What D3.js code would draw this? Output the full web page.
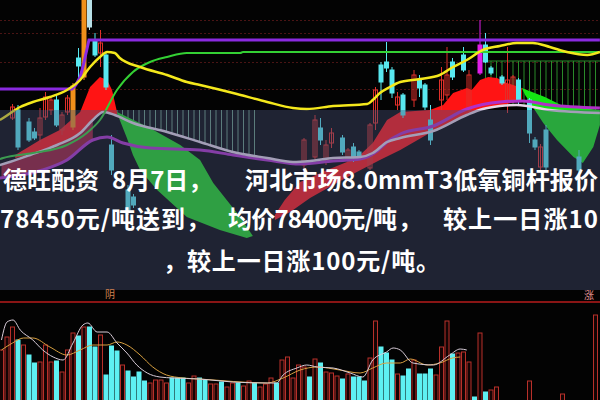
<!DOCTYPE html>
<html><head><meta charset="utf-8">
<script src="https://cdn.jsdelivr.net/npm/d3@7"></script>
<style>html,body{margin:0;padding:0;background:#000;overflow:hidden}</style>
</head><body><svg id="c" width="600" height="400"></svg>
<script>
// ---------------- DATA ----------------
const priceGrid = [78800, 78670, 78380, 78110];
// candles: [index, open, close, high, low, kind]  r=up(hollow red) c=down(cyan) o=orange m=magenta w=light
const candles = [
 [2,77820,77930,77960,77800,'r'],[3,77900,77530,77950,77500,'c'],[5,77780,77600,77820,77580,'c'],
 [6,77680,77620,77720,77600,'c'],[7,77650,77820,77920,77580,'r'],[8,77830,78030,78080,77800,'r'],
 [9,77900,78000,78040,77850,'r'],[10,78000,77750,78050,77730,'c'],[11,77700,77850,77880,77650,'r'],
 [12,77880,78020,78050,77850,'r'],[13,77730,78140,78170,77700,'o'],[14,78420,78340,78520,78180,'c'],
 [15,78230,79100,79100,78200,'o'],[16,79100,78730,79100,78700,'w'],[17,78600,78450,78670,78430,'c'],
 [18,78470,78570,78700,78330,'r'],[19,78450,78130,78480,78100,'c'],[20,77550,77300,77650,77250,'c'],
 [23,77100,76900,77150,76850,'c'],[24,77030,76950,77060,76920,'c'],
 [55,77350,77600,77620,77280,'r'],[57,77430,77800,77850,77400,'r'],[58,77720,77600,77820,77550,'c'],
 [59,77400,77550,77600,77350,'r'],[60,77570,77670,77720,77520,'r'],[62,77620,77480,77650,77450,'c'],
 [63,77400,77500,77520,77380,'r'],[64,77530,77420,77570,77380,'c'],[65,77480,77430,77500,77400,'c'],
 [67,77320,77750,77770,77300,'r'],[68,77770,78100,78130,77700,'r'],[69,78350,78180,78380,78000,'c'],
 [70,78380,78320,78580,78280,'c'],[71,78300,78070,78330,78020,'c'],[72,77950,78030,78080,77900,'r'],
 [73,78050,77850,78070,77820,'c'],[75,78000,78250,78300,77930,'r'],[76,78200,78120,78250,78030,'c'],
 [77,78150,77930,78170,77900,'c'],[78,77800,77600,77950,77550,'c'],[80,78000,78200,78330,77900,'r'],
 [81,78050,78250,78530,78000,'r'],[82,78380,78230,78420,78200,'c'],[84,78450,78300,78530,78280,'c'],
 [85,77900,78250,78300,77880,'r'],[87,78270,78550,78800,78250,'m'],[88,78550,78380,78670,78370,'c'],
 [89,78320,78270,78340,78250,'c'],[91,78230,78170,78250,78150,'c'],[92,78000,78200,78530,77870,'r'],
 [93,78000,78230,78250,77970,'r'],[94,78200,78000,78220,77950,'c'],[96,78000,77670,78020,77570,'c'],
 [97,77600,77530,77630,77500,'c'],[98,77330,77530,77560,77300,'r'],[99,77700,77330,77750,77300,'c'],
 [105,77430,77300,77500,77270,'c']
];
const maYellow = [[-0.3,77800],[0.3,77820],[3.4,77930],[5.7,77980],[8.8,78030],[11.9,78100],[14.3,78200],
 [16.1,78330],[17.9,78430],[19.2,78480],[20.6,78470],[21.5,78420],[25.2,78330],[30.1,78250],[33.7,78180],
 [36.1,78150],[42.1,78070],[48.3,77980],[53,77920],[55.5,77910],[60.3,77940],[66.5,77960],[67.5,78000],
 [68.8,78070],[70.6,78130],[72.5,78180],[76.1,78210],[79.7,78250],[82.1,78330],[84.6,78400],[87.5,78500],
 [90.6,78540],[93.7,78570],[96.6,78570],[99.7,78530],[102.8,78480],[106.5,78450],[108.8,78480]];
const maGreen = [[-0.3,77410],[0.3,77420],[5.7,77470],[11.9,77550],[15.5,77670],[17.9,77800],[21,78100],
 [23.9,78280],[27,78380],[30.1,78430],[33.7,78470],[36.1,78470],[43.4,78470],[43.9,78480],[108.8,78480]];
const stepPurple = [[-0.3,78110],[12.8,78110],[13.5,78150],[14.3,78230],[14.8,78330],[15.5,78500],[15.9,78600],[108.8,78600]];
const lineWhite = [[-0.3,77350],[1.5,77380],[5.2,77450],[10.1,77550],[14.3,77670],[16.6,77800],[18.5,77880],
 [20.6,77850],[23.9,77770],[30.1,77680],[36.1,77580],[42.1,77480],[48.3,77420],[53,77380],[56.1,77390],
 [60.3,77420],[65.2,77430],[67.5,77470],[70.1,77580],[72.5,77620],[78.5,77690],[84.6,77850],[87.5,77910],
 [90.6,77940],[93.7,77950],[99.7,77900],[108.8,77870]];
const linePurple = [[-0.3,77220],[7.5,77300],[11.9,77400],[16.6,77600],[19.2,77630],[22.1,77570],[27,77520],
 [36.1,77500],[42.1,77450],[48.3,77400],[54.3,77360],[60.3,77390],[65.2,77410],[68.3,77490],[70.1,77580],
 [72.5,77660],[78.5,77740],[84.6,77910],[90.6,77980],[94.8,77990],[99.7,77950],[108.8,77920]];
const redLeftTop = [[2.5,77450],[3.4,77480],[7,77600],[10.6,77700],[14.3,77880],[16.1,78130],[17.9,78230],
 [19.2,78200],[20.1,78100],[21,77880]];
const redLeftBottom = [[21,77860],[20.6,77850],[18.5,77880],[16.6,77800],[14.3,77670],[10.1,77550],[5.2,77450],[2.5,77420]];
const maroonLeftTop = [[0,77360],[5.2,77450],[10.1,77550],[14.3,77670],[16.6,77800]];
const maroonLeftBottom = [[16.6,77600],[11.9,77400],[7.5,77300],[0,77230]];
const redRightTop = [[49.7,76850],[51.5,77000],[54.3,77180],[59.2,77300],[64.6,77420],[67.5,77570],[70.1,77800],
 [72.5,77880],[77.9,77900],[80.3,77950],[82.1,78070],[84.6,78120],[85.5,78100],[87,78200],[88.5,78230],
 [90.1,78220],[91.9,78170],[94.6,78120]];
const redRightBottom = [[94.6,78000],[90.6,77940],[87.5,77910],[84.6,77850],[78.5,77690],[72.5,77500],
 [68.8,77400],[64.6,77280],[60.3,77150],[56.1,77020],[52.5,76880],[49.7,76800]];
const greenLeftTop = [[21,77880],[27,77720],[32.5,77550],[36.1,77400],[38.5,77170],[43.4,76830],[45.7,76640]];
const greenLeftBottom = [[44.6,76620],[39.7,76700],[33.7,76830],[28.3,77100],[25.2,77300],[23.9,77450],[22.8,77620],[21.5,77800]];
const greenRightTop = [[94.6,78120],[98.8,78030],[102.1,77940],[108.8,77900]];
const greenRightBottom = [[108.8,77750],[107.6,77530],[105.7,77370],[104,77430],[101,77600],[98.5,77770],[96.6,77930],[95.2,78050]];
const hatchGrayIdx = d3.range(21, 47);
const hatchGreenIdx = d3.range(88, 109);
const hatchGrayTop = 77900;
const hatchGreenTop = 78390;

const volValues = [50,63,73,60,55,45,37,38,55,38, 39,28,50,67,64,73,73,53,65,25,
 54,49,35,29,23,28,19,17,20,20, 17,22,22,22,17,24,22,20,16,16,
 18,13,17,17,14,19,17,13,16,22, 17,40,43,22,35,33,23,41,37,28,
 27,24,21,26,23,23,19,42,79,53, 47,40,26,24,31,40,26,26,31,25,
 53,79,46,47,48,38,3,67,8,10, 13,0,0,0,0,0,19,0,0,0, 0,0,6,0,0,0,0,0,85];
const volKind = ("uuududduuu"+"duuududdud"+"ddudddduuu"+"uddduudduu"+"duuduuduuu"+
 "duuuuududu"+"uududdduud"+"dduddudddu"+"uuduuududu"+"uuuuuuuuuu"+"uuuuuuuuu").split('');
const volMaWhite = [[0,60],[1,78],[2.1,80],[3.4,70],[5.7,60],[7.5,50],[9.4,43],[11.2,40],[13,57],[14.8,75],
 [15.7,77],[17.4,68],[19.2,68],[21,57],[22.8,47],[24.6,35],[26.5,27],[28.8,23],[31.2,22],[36,21],[42,18],
 [48.3,17],[50,17],[51.2,25],[53.7,32],[55.5,35],[57.4,33],[60.3,32],[63.4,27],[65.7,23],[67.5,40],[70,48],
 [71.2,52],[72.5,50],[74.8,37],[78.5,35],[81.5,45],[83.4,51],[84.6,50]];
const volMaOrange = [[0,50],[2,57],[4,62],[5.7,62],[8.8,53],[11.9,45],[14.3,50],[16.6,55],[19.2,55],[21,58],
 [22.8,55],[25.2,45],[27.5,33],[30,25],[33,22],[36,21],[48.3,17],[51.2,22],[54.3,30],[57.4,33],[61.5,30],
 [65.2,27],[67.5,32],[70,37],[72.5,37],[74.3,41],[77.4,35],[79.7,37],[82,42],[83.4,43]];
const panelLabels = ["阴", "涨"];
const textLines = [
 ["德旺配资", "8月7日，", "河北市场8.0mmT3低氧铜杆报价"],
 ["78450元/吨送到", "，", "均价78400元/吨", "，", "较上一日涨10"],
 ["，", "较上一日涨100元/吨。"]
];

// ---------------- DRAW ----------------
const svg = d3.select('#c');
const x = d3.scaleLinear().domain([0,108]).range([1.5,595.5]);
const yP = d3.scaleLinear().domain([76100,79000]).range([290,0]);
const yV = d3.scaleLinear().domain([0,100]).range([400,300]);

svg.append('rect').attr('width',600).attr('height',400).attr('fill','#030303');

function valAt(s, i){
  for(let k=0;k<s.length-1;k++){const [a,va]=s[k],[b,vb]=s[k+1]; if(i>=a&&i<=b) return va+(vb-va)*(i-a)/(b-a);}
  return i<s[0][0]?s[0][1]:s[s.length-1][1];
}

// grid
const grid = svg.append('g').call(d3.axisRight(yP).tickValues(priceGrid).tickSize(600).tickFormat(''));
grid.select('.domain').remove();
grid.selectAll('line').attr('stroke','#4a1414').attr('stroke-dasharray','2,2').attr('stroke-width',1);

const poly = d3.line().x(d=>x(d[0])).y(d=>yP(d[1])).curve(d3.curveLinearClosed);
const ln = d3.line().x(d=>x(d[0])).y(d=>yP(d[1])).curve(d3.curveMonotoneX);

// hatch lines
svg.append('g').selectAll('line').data(hatchGrayIdx).join('line')
  .attr('x1',d=>x(d)).attr('x2',d=>x(d)).attr('y1',yP(hatchGrayTop)).attr('y2',d=>yP(valAt(lineWhite,d)))
  .attr('stroke','#6a9c80').attr('stroke-width',1);
svg.append('g').selectAll('line').data(hatchGreenIdx).join('line')
  .attr('x1',d=>x(d)).attr('x2',d=>x(d)).attr('y1',yP(hatchGreenTop)).attr('y2',d=>yP(valAt(lineWhite,d)))
  .attr('stroke','#2a8a2a').attr('stroke-width',1);
svg.append('line').attr('x1',x(87)).attr('x2',600).attr('y1',yP(hatchGreenTop)).attr('y2',yP(hatchGreenTop))
  .attr('stroke','#2a8a2a').attr('stroke-width',1);

// areas
svg.append('path').attr('d',poly(maroonLeftTop.concat(maroonLeftBottom))).attr('fill','#9a1830');
svg.append('path').attr('d',poly(redLeftTop.concat(redLeftBottom))).attr('fill','#ff1414');
svg.append('path').attr('d',poly(redRightTop.concat(redRightBottom))).attr('fill','#ff1414');
svg.append('path').attr('d',poly(greenLeftTop.concat(greenLeftBottom))).attr('fill','#1ed81e');
svg.append('path').attr('d',poly(greenRightTop.concat(greenRightBottom))).attr('fill','#14e614');

// candles
const col = {r:'#e0302a', c:'#58e8f0', o:'#f0901a', m:'#e020e8', w:'#b8e0e8'};
const cg = svg.append('g').selectAll('g').data(candles).join('g');
cg.append('line').attr('x1',d=>x(d[0])).attr('x2',d=>x(d[0])).attr('y1',d=>yP(d[3])).attr('y2',d=>yP(d[4]))
  .attr('stroke',d=>col[d[5]]).attr('stroke-width',1);
cg.append('rect').attr('x',d=>x(d[0])-2).attr('width',4)
  .attr('y',d=>yP(Math.max(d[1],d[2]))).attr('height',d=>Math.max(1,Math.abs(yP(d[1])-yP(d[2]))))
  .attr('fill',d=>d[5]==='r'?'none':col[d[5]]).attr('stroke',d=>col[d[5]]).attr('stroke-width',1);

// lines
svg.append('path').attr('d',ln(linePurple)).attr('fill','none').attr('stroke','#b030c8').attr('stroke-width',3);
svg.append('path').attr('d',ln(lineWhite)).attr('fill','none').attr('stroke','#e6d6e6').attr('stroke-width',2.5);
svg.append('path').attr('d',ln(maGreen)).attr('fill','none').attr('stroke','#34d034').attr('stroke-width',2);
svg.append('path').attr('d',d3.line().x(d=>x(d[0])).y(d=>yP(d[1]))(stepPurple)).attr('fill','none').attr('stroke','#8a2ae0').attr('stroke-width',3);
svg.append('path').attr('d',ln(maYellow)).attr('fill','none').attr('stroke','#f4e81c').attr('stroke-width',2.5);

// volume panel
svg.append('line').attr('x1',0).attr('x2',600).attr('y1',302).attr('y2',302).attr('stroke','#b81c1c').attr('stroke-width',1.5);
const vdata = volValues.map((v,i)=>({i,v,k:volKind[i]})).filter(d=>d.v>0);
svg.append('g').selectAll('rect').data(vdata).join('rect')
  .attr('x',d=>x(d.i)-2).attr('width',4).attr('y',d=>yV(d.v)).attr('height',d=>yV(0)-yV(d.v)+2)
  .attr('fill',d=>d.k==='u'?'#140404':'#5ef0f2').attr('stroke',d=>d.k==='u'?'#b8302a':'#5ef0f2').attr('stroke-width',1);
const lv = d3.line().x(d=>x(d[0])).y(d=>yV(d[1])).curve(d3.curveMonotoneX);
svg.append('path').attr('d',lv(volMaOrange)).attr('fill','none').attr('stroke','#d8a040').attr('stroke-width',1);
svg.append('path').attr('d',lv(volMaWhite)).attr('fill','none').attr('stroke','#d8ccd8').attr('stroke-width',1);

// overlay band
svg.append('rect').attr('x',0).attr('y',110).attr('width',600).attr('height',180).attr('fill','rgba(72,80,118,0.42)');

// panel labels
svg.append('text').attr('x',105).attr('y',298).attr('font-size',10).attr('fill','#d08050')
  .attr('font-family','Noto Sans CJK SC').text(panelLabels[0]);
svg.append('text').attr('x',584).attr('y',299).attr('font-size',10).attr('fill','#e09090')
  .attr('font-family','Noto Sans CJK SC').text(panelLabels[1]);

// text overlay
const layout = [
 [[3,null],[112,null],[245,353]],
 [[0,185],[186,null],[228,169],[398,null],[443,155]],
 [[163,null],[187,253]]
];
const baselines = [189,228,270];
const tg = svg.append('g').attr('font-family',"'Noto Sans CJK SC','Noto Sans',sans-serif")
  .attr('font-weight',700).attr('font-size',24).attr('fill','#ffffff');
textLines.forEach((segs,li)=>{
  segs.forEach((s,si)=>{
    const [tx,tl] = layout[li][si];
    const t = tg.append('text').attr('x',tx).attr('y',baselines[li]).text(s);
    if(tl) t.attr('textLength',tl).attr('lengthAdjust','spacing');
  });
});
</script></body></html>
